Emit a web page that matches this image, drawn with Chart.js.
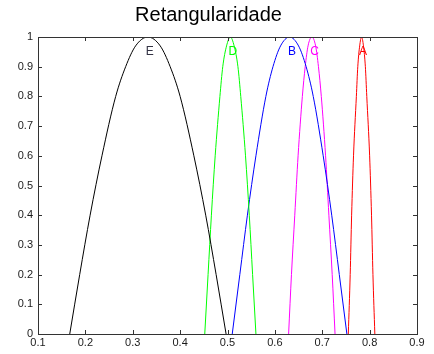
<!DOCTYPE html>
<html>
<head>
<meta charset="utf-8">
<script src="https://cdn.jsdelivr.net/npm/chart.js@4/dist/chart.umd.min.js"></script>
<style>
  html, body { margin: 0; padding: 0; background: #fff; }
  #wrap { width: 434px; height: 354px; }
</style>
</head>
<body>
<div id="wrap"><canvas id="grafico"></canvas></div>
<script>
// valores
const curvaNomes = ['E', 'D', 'B', 'C', 'A'];
const curvaCores = ['#000000', '#00ff00', '#0000ff', '#ff00ff', '#ff0000'];
const yPontos = [0, 0.2, 0.4, 0.6, 0.8, 0.9, 0.97, 1, 0.97, 0.9, 0.8, 0.6, 0.4, 0.2, 0];
const xE = [0.167, 0.188, 0.210, 0.235, 0.264, 0.285, 0.306, 0.332, 0.358, 0.379, 0.400, 0.429, 0.454, 0.476, 0.497];
const xD = [0.452, 0.459, 0.466, 0.474, 0.484, 0.490, 0.498, 0.506, 0.514, 0.522, 0.528, 0.538, 0.546, 0.553, 0.560];
const xB = [0.510, 0.526, 0.542, 0.560, 0.581, 0.596, 0.612, 0.631, 0.650, 0.666, 0.681, 0.702, 0.720, 0.736, 0.752];
const xC = [0.629, 0.635, 0.642, 0.649, 0.658, 0.664, 0.670, 0.678, 0.686, 0.692, 0.698, 0.707, 0.714, 0.721, 0.727];
const xA = [0.755, 0.759, 0.762, 0.766, 0.772, 0.775, 0.779, 0.783, 0.787, 0.791, 0.794, 0.800, 0.804, 0.807, 0.811];
const rotuloX = [0.336, 0.511, 0.636, 0.684, 0.786];
const rotuloY = [0.949, 0.949, 0.949, 0.949, 0.949];
const xTicks = [0.1, 0.2, 0.3, 0.4, 0.5, 0.6, 0.7, 0.8, 0.9];
const yTicks = [0, 0.1, 0.2, 0.3, 0.4, 0.5, 0.6, 0.7, 0.8, 0.9, 1];

const xsCurvas = [xE, xD, xB, xC, xA];

const datasets = xsCurvas.map((xs, i) => ({
    label: curvaNomes[i],
    data: xs.map((x, j) => ({ x: x, y: yPontos[j] })),
    borderColor: curvaCores[i],
    borderWidth: 1,
    pointRadius: 0,
    fill: false,
    showLine: true,
    cubicInterpolationMode: 'monotone'
}));

// caixa, marcas internas e letras
const caixaPlugin = {
    id: 'caixa',
    afterDraw(chart) {
        const ctx = chart.ctx;
        const a = chart.chartArea;
        const sx = chart.scales.x, sy = chart.scales.y;
        ctx.save();
        ctx.strokeStyle = '#333';
        ctx.lineWidth = 1;
        ctx.strokeRect(Math.round(a.left) + 0.5, Math.round(a.top) + 0.5,
            Math.round(a.right - a.left), Math.round(a.bottom - a.top));
        ctx.beginPath();
        xTicks.forEach(v => {
            const px = Math.round(sx.getPixelForValue(v)) + 0.5;
            ctx.moveTo(px, a.bottom); ctx.lineTo(px, a.bottom - 4);
            ctx.moveTo(px, a.top); ctx.lineTo(px, a.top + 4);
        });
        yTicks.forEach(v => {
            const py = Math.round(sy.getPixelForValue(v)) + 0.5;
            ctx.moveTo(a.left, py); ctx.lineTo(a.left + 4, py);
            ctx.moveTo(a.right, py); ctx.lineTo(a.right - 4, py);
        });
        ctx.stroke();
        ctx.font = '12px "Liberation Sans", Arial, sans-serif';
        ctx.textAlign = 'center';
        ctx.textBaseline = 'middle';
        curvaNomes.forEach((n, i) => {
            ctx.fillStyle = i === 0 ? '#333344' : curvaCores[i];
            ctx.fillText(n, sx.getPixelForValue(rotuloX[i]), sy.getPixelForValue(rotuloY[i]));
        });
        ctx.restore();
    }
};

const ctx = document.getElementById('grafico').getContext('2d');
const grafico = new Chart(ctx, {
    type: 'scatter',
    data: { datasets: datasets },
    plugins: [caixaPlugin],
    options: {
        responsive: true,
        maintainAspectRatio: false,
        animation: false,
        layout: { padding: { left: 0, right: 17, top: 0, bottom: 0 } },
        plugins: {
            legend: { display: false },
            tooltip: { enabled: false },
            title: {
                display: true,
                text: 'Retangularidade',
                color: '#000',
                font: { family: '"Liberation Sans", Arial, sans-serif', size: 20, weight: 'normal' },
                padding: { top: 3, bottom: 10 }
            }
        },
        scales: {
            x: {
                type: 'linear',
                min: 0.1, max: 0.9,
                grid: { display: false, drawTicks: false },
                border: { display: false },
                afterBuildTicks: s => { s.ticks = xTicks.map(v => ({ value: v })); },
                afterFit: s => { s.height = 20; },
                ticks: {
                    padding: 2,
                    maxRotation: 0,
                    autoSkip: false,
                    color: '#1a1a1a',
                    font: { family: '"Liberation Sans", Arial, sans-serif', size: 11 },
                    callback: v => String(v)
                }
            },
            y: {
                type: 'linear',
                min: 0, max: 1,
                grid: { display: false, drawTicks: false },
                border: { display: false },
                afterBuildTicks: s => { s.ticks = yTicks.map(v => ({ value: v })); },
                afterFit: s => { s.width = 38; },
                ticks: {
                    padding: 5,
                    autoSkip: false,
                    color: '#1a1a1a',
                    font: { family: '"Liberation Sans", Arial, sans-serif', size: 11 },
                    callback: v => String(v)
                }
            }
        }
    }
});
</script>
</body>
</html>
